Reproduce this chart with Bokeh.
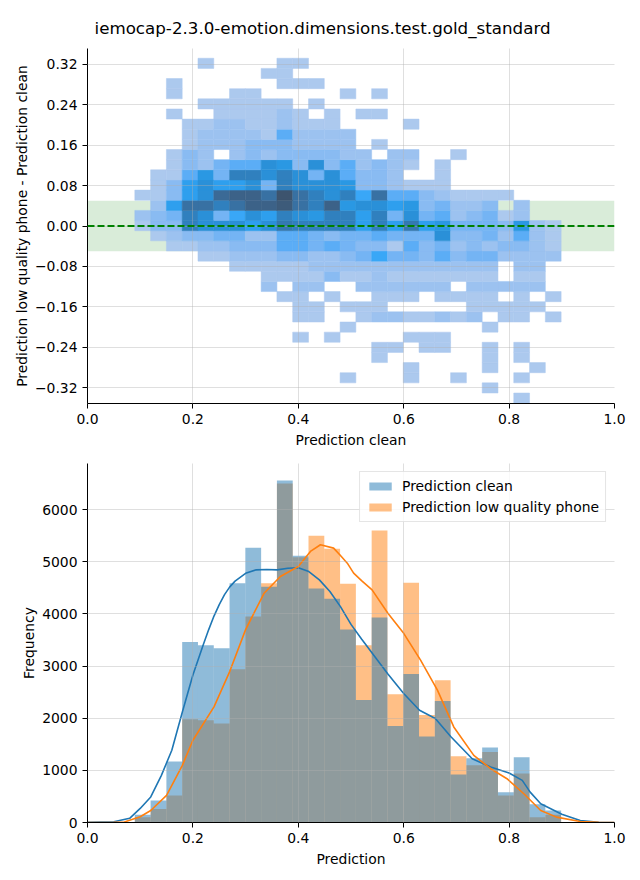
import math
import numpy as np
from bokeh.plotting import figure
from bokeh.layouts import column
from bokeh.models import FixedTicker, BoxAnnotation, Span, Legend, LegendItem, Range1d
from bokeh.embed import file_html
from bokeh.resources import INLINE

FONT = "DejaVu Sans"
TITLE = "iemocap-2.3.0-emotion.dimensions.test.gold_standard"

# ---------------- data ----------------
# histogram bins (shared by both panels, x = prediction clean)
bin_start = 0.0898
bin_width = 0.02996
n_bins = 27

# bottom panel: counts per bin
clean_counts = [150, 420, 1170, 3460, 3400, 3340, 4590, 5270, 4520, 6560, 5115, 4490, 4290, 3700,
                2350, 3930, 1850, 2850, 1650, 2330, 920, 1230, 1440, 580, 1250, 350, 230]
phone_counts = [100, 260, 520, 1980, 1960, 1900, 2940, 3950, 4590, 6500, 5090, 5500, 5250, 4580,
                3400, 5600, 2460, 4600, 2060, 2730, 1270, 1100, 1350, 520, 940, 100, 150]

# KDE curves (scaled to counts)
kde_clean_x = [0.0, 0.05, 0.08, 0.10, 0.12, 0.14, 0.16, 0.18, 0.20, 0.22, 0.23, 0.24, 0.25, 0.26,
               0.27, 0.28, 0.30, 0.32, 0.34, 0.36, 0.38, 0.40, 0.42, 0.44, 0.46, 0.48, 0.50, 0.52,
               0.55, 0.57, 0.60, 0.63, 0.66, 0.69, 0.73, 0.765, 0.80, 0.825, 0.84, 0.86, 0.90,
               0.935, 0.97, 1.0]
kde_clean_y = [2, 15, 80, 270, 490, 900, 1385, 2120, 2830, 3420, 3700, 3960, 4180, 4370,
               4520, 4630, 4780, 4846, 4852, 4846, 4878, 4885, 4814, 4654, 4430, 4141, 3800, 3520,
               3115, 2850, 2474, 2154, 1994, 1641, 1224, 1064, 949, 808, 583, 359, 160,
               38, 5, 0]
kde_phone_x = [0.0, 0.05, 0.07, 0.10, 0.12, 0.15, 0.18, 0.20, 0.24, 0.27, 0.30, 0.335, 0.366, 0.40,
               0.423, 0.442, 0.467, 0.48, 0.493, 0.505, 0.52, 0.54, 0.57, 0.60, 0.632, 0.664, 0.695,
               0.733, 0.765, 0.796, 0.828, 0.86, 0.89, 0.935, 0.97, 1.0]
kde_phone_y = [0, 3, 10, 110, 230, 520, 1096, 1577, 2218, 2900, 3700, 4397, 4718, 4910,
               5199, 5327, 5263, 5120, 4974, 4782, 4640, 4462, 4013, 3628, 3115, 2538, 1833,
               1288, 1032, 840, 551, 230, 103, 20, 3, 0]

# top panel: 2D histogram, y = low quality phone - clean
diff_bin_start = -0.3503
diff_bin_height = 0.02006
# one string per y-bin, top row first; each char = cell count (base 36), 0 = empty
heat_rows = [
    "000020000220000000000000000",
    "000000002200000000000000000",
    "002000000222000000000000000",
    "002000220000020200000000000",
    "000022222202000000000000000",
    "002002222320202200000000000",
    "000223322322200002000000000",
    "000233332633330000000000000",
    "000233344433330200000000000",
    "002430343444433033002000000",
    "00243566A94A463432020000000",
    "022695CCACA5A64430020000000",
    "0248A88A5CAAA94432220000000",
    "2248AFGGEIECAC7E66432222000",
    "038EECEGGHECG9AA89453340300",
    "345CA57A8CA9CC8C5A563452300",
    "244CAAA8ADCCCC8C8D895554932",
    "0234455336654556555A4453632",
    "002233444665654426453434432",
    "000022333443345755464553333",
    "000000222223333333333330330",
    "000000002222422322222220220",
    "000000003033003333330333330",
    "000000000220200222022220202",
    "000000000022022200000222220",
    "000000000022002332232302202",
    "000000000000020000000020000",
    "000000000020200002220000000",
    "000000000000000220220020200",
    "000000000000000200000020200",
    "000000000000000002000020020",
    "000000000000020002002000200",
    "000000000000000000000020000",
    "000000000000000000000000200",
]

tolerance = 0.05
x_ticks = [0.0, 0.2, 0.4, 0.6, 0.8, 1.0]
diff_ticks = [-0.32, -0.24, -0.16, -0.08, 0.0, 0.08, 0.16, 0.24, 0.32]
freq_ticks = [0, 1000, 2000, 3000, 4000, 5000, 6000]

C0 = "#1f77b4"
C1 = "#ff7f0e"

# ---------------- seaborn-like colormap (husl) ----------------
M = [[3.2406, -1.5372, -0.4986], [-0.9689, 1.8758, 0.0415], [0.0557, -0.2040, 1.0570]]
M_INV = [[0.4124, 0.3576, 0.1805], [0.2126, 0.7152, 0.0722], [0.0193, 0.1192, 0.9505]]
REF_U, REF_V = 0.19784, 0.46834
LAB_E, LAB_K = 0.008856, 903.3


def _max_chroma(L, H):
    hrad = math.radians(H)
    sinH, cosH = math.sin(hrad), math.cos(hrad)
    sub1 = (L + 16) ** 3 / 1560896.0
    sub2 = sub1 if sub1 > 0.008856 else L / 903.3
    result = float("inf")
    for m1, m2, m3 in M:
        top = (0.99915 * m1 + 1.05122 * m2 + 1.14460 * m3) * sub2
        rbottom = 0.86330 * m3 - 0.17266 * m2
        lbottom = 0.12949 * m3 - 0.38848 * m1
        bottom = (rbottom * sinH + lbottom * cosH) * sub2
        for t in (0.0, 1.0):
            C = L * (top - 1.05122 * t) / (bottom + 0.17266 * sinH * t)
            if 0.0 < C < result:
                result = C
    return result


def _f(t):
    return t ** (1.0 / 3.0) if t > LAB_E else 7.787 * t + 16.0 / 116.0


def _f_inv(t):
    return t ** 3 if t ** 3 > LAB_E else (116.0 * t - 16.0) / LAB_K


def _from_linear(c):
    return 12.92 * c if c <= 0.0031308 else 1.055 * c ** (1 / 2.4) - 0.055


def _to_linear(c):
    return ((c + 0.055) / 1.055) ** 2.4 if c > 0.04045 else c / 12.92


def rgb_to_husl(r, g, b):
    rl = [_to_linear(c) for c in (r, g, b)]
    X, Y, Z = [sum(a * v for a, v in zip(row, rl)) for row in M_INV]
    den = X + 15 * Y + 3 * Z
    L = 116.0 * _f(Y) - 16.0
    U = 13 * L * (4 * X / den - REF_U)
    V = 13 * L * (9 * Y / den - REF_V)
    C = math.hypot(U, V)
    H = math.degrees(math.atan2(V, U)) % 360
    return H, C / _max_chroma(L, H) * 100.0, L


def husl_to_rgb(H, S, L):
    C = _max_chroma(L, H) / 100.0 * S
    U = math.cos(math.radians(H)) * C
    V = math.sin(math.radians(H)) * C
    Y = _f_inv((L + 16.0) / 116.0)
    vu = U / (13.0 * L) + REF_U
    vv = V / (13.0 * L) + REF_V
    X = -(9.0 * Y * vu) / ((vu - 4.0) * vv - vu * vv)
    Z = (9.0 * Y - 15.0 * vv * Y - vv * X) / (3.0 * vv)
    return [_from_linear(sum(a * v for a, v in zip(row, (X, Y, Z)))) for row in M]


def cmap_from_color(hexcol):
    r, g, b = [int(hexcol[i:i + 2], 16) / 255 for i in (1, 3, 5)]
    h, s, _ = rgb_to_husl(r, g, b)
    xx = np.linspace(-1, 1, int(1.15 * 256))[:256]
    ls = np.linspace(35, 80, 256)
    cols = []
    for x, l in zip(xx, ls):
        rgb = np.clip(husl_to_rgb(h, s * math.cos(x), l), 0, 1)
        cols.append("#%02x%02x%02x" % tuple(int(round(v * 255)) for v in rgb))
    return cols[::-1]


CMAP = cmap_from_color(C0)


def style(p, xlabel, ylabel, ylab_standoff):
    p.outline_line_color = None
    p.background_fill_color = "white"
    p.border_fill_color = "white"
    for ax in (p.xaxis[0], p.yaxis[0]):
        ax.axis_line_color = "black"
        ax.axis_line_width = 1
        ax.major_tick_line_color = "black"
        ax.major_tick_line_width = 1
        ax.major_tick_out = 5
        ax.major_tick_in = 0
        ax.minor_tick_line_color = None
        ax.major_label_standoff = 5
        ax.major_label_text_font = FONT
        ax.major_label_text_font_size = "13.9px"
        ax.major_label_text_color = "black"
        ax.axis_label_text_font = FONT
        ax.axis_label_text_font_size = "13.9px"
        ax.axis_label_text_font_style = "normal"
        ax.axis_label_text_color = "black"
    p.xaxis[0].axis_label = xlabel
    p.yaxis[0].axis_label = ylabel
    p.xaxis[0].axis_label_standoff = 5
    p.yaxis[0].axis_label_standoff = ylab_standoff
    p.xaxis[0].ticker = FixedTicker(ticks=x_ticks)
    p.xaxis[0].major_label_overrides = {t: f"{t:.1f}" for t in x_ticks}
    for g in p.grid:
        g.grid_line_color = "#b0b0b0"
        g.grid_line_alpha = 0.5
        g.grid_line_width = 0.8
        g.level = "guide"


# ---------------- top panel ----------------
p1 = figure(width=640, height=450, x_range=Range1d(0, 1), y_range=Range1d(-0.351, 0.351),
            output_backend="svg", toolbar_location=None,
            min_border_left=87, min_border_right=26, min_border_top=48, min_border_bottom=44)
style(p1, "Prediction clean", "Prediction low quality phone - Prediction clean", 2)
p1.yaxis[0].ticker = FixedTicker(ticks=diff_ticks)
p1.yaxis[0].major_label_overrides = {t: f"{t:.2f}".replace("-", "\u2212") for t in diff_ticks}
p1.title.text = TITLE
p1.title.align = "left"
p1.title.offset = 7
p1.title.text_font = FONT
p1.title.text_font_size = "16.7px"
p1.title.text_font_style = "normal"
p1.title.text_color = "black"
p1.title.standoff = 21

band = BoxAnnotation(bottom=-tolerance, top=tolerance, fill_color="green", fill_alpha=0.15,
                     line_color=None, level="underlay")
p1.add_layout(band)

heat = [[int(ch, 36) for ch in row] for row in reversed(heat_rows)]
vals = [v for row in heat for v in row if v > 0]
vmin, vmax = min(vals), max(vals)
L, R, B, T, COL = [], [], [], [], []
for r, row in enumerate(heat):
    for i, v in enumerate(row):
        if v <= 0:
            continue
        frac = (v - vmin) / (vmax - vmin)
        idx = min(int(frac * 256), 255)
        L.append(bin_start + i * bin_width)
        R.append(bin_start + (i + 1) * bin_width)
        B.append(diff_bin_start + r * diff_bin_height)
        T.append(diff_bin_start + (r + 1) * diff_bin_height)
        COL.append(CMAP[idx])
p1.quad(left=L, right=R, bottom=B, top=T, fill_color=COL, line_color=COL, line_width=0.5)

p1.add_layout(Span(location=0, dimension="width", line_color="green", line_width=2,
                   line_dash="7 3"))

# ---------------- bottom panel ----------------
p2 = figure(width=640, height=430, x_range=Range1d(0, 1), y_range=Range1d(0, 6886),
            output_backend="svg", toolbar_location=None,
            min_border_left=87, min_border_right=26, min_border_top=13, min_border_bottom=58)
style(p2, "Prediction", "Frequency", 2)
p2.yaxis[0].ticker = FixedTicker(ticks=freq_ticks)
p2.yaxis[0].major_label_overrides = {t: str(t) for t in freq_ticks}

lefts = [bin_start + i * bin_width for i in range(n_bins)]
rights = [bin_start + (i + 1) * bin_width for i in range(n_bins)]
r_phone = p2.quad(left=lefts, right=rights, bottom=0, top=phone_counts,
                  fill_color=C1, fill_alpha=0.5, line_color=None)
r_clean = p2.quad(left=lefts, right=rights, bottom=0, top=clean_counts,
                  fill_color=C0, fill_alpha=0.5, line_color=None)
p2.line(kde_clean_x, kde_clean_y, line_color=C0, line_width=1.6)
p2.line(kde_phone_x, kde_phone_y, line_color=C1, line_width=1.6)

legend = Legend(items=[LegendItem(label="Prediction clean", renderers=[r_clean]),
                       LegendItem(label="Prediction low quality phone", renderers=[r_phone])],
                location="top_right")
legend.margin = 8
legend.padding = 6
legend.spacing = 5
legend.label_text_font = FONT
legend.label_text_font_size = "13.9px"
legend.label_text_color = "black"
legend.label_height = 16
legend.glyph_height = 10
legend.glyph_width = 28
legend.label_standoff = 8
legend.border_line_color = "#cccccc"
legend.border_line_width = 1
legend.background_fill_color = "white"
legend.background_fill_alpha = 0.8
p2.add_layout(legend)

layout = column(p1, p2)
open("out.html", "w").write(file_html(layout, INLINE))
